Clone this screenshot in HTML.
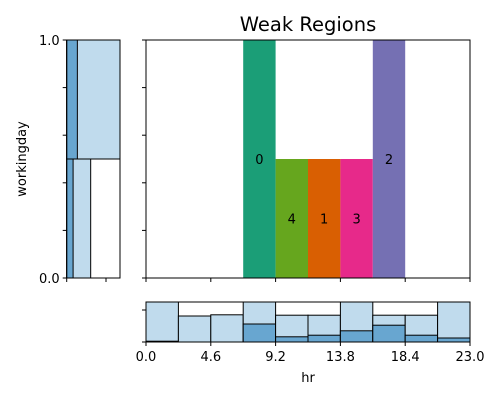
<!DOCTYPE html>
<html><head><meta charset="utf-8"><style>
body{margin:0;background:#fff}
svg{display:block;font-family:"DejaVu Sans","Liberation Sans",sans-serif}
</style></head><body>
<svg id="c" width="500" height="400" xmlns="http://www.w3.org/2000/svg">
<text x="308" y="31" font-size="19.5" text-anchor="middle">Weak Regions</text>
<text x="26" y="159" font-size="13" text-anchor="middle" transform="rotate(-90 26 159)">workingday</text>
<text x="308" y="382" font-size="13" text-anchor="middle">hr</text>
<g id="main"></g><g id="left"></g><g id="bottom"></g>
</svg>
<script>
// main region bars: x range (hr), height (workingday fraction), label
const regionLabels=["0","4","1","3","2"];
const regionX0=[6.9,9.2,11.5,13.8,16.1];
const regionX1=[9.2,11.5,13.8,16.1,18.4];
const regionY0=[0,0,0,0,0];
const regionY1=[1,0.5,0.5,0.5,1];
const regionLabelY=[0.5,0.25,0.25,0.25,0.5];
const regionColors=["#1b9e77","#66a61e","#d95f02","#e7298a","#7570b3"];
// bottom histogram (relative heights)
const binEdges=[0,2.3,4.6,6.9,9.2,11.5,13.8,16.1,18.4,20.7,23];
const totalHeights=[1,0.65,0.68,1,0.67,0.67,1,0.67,0.67,1];
const weakHeights=[0.02,0,0,0.45,0.13,0.17,0.28,0.42,0.17,0.1];
const xTicks=[0,4.6,9.2,13.8,18.4,23];
const xTickLabels=["0.0","4.6","9.2","13.8","18.4","23.0"];
// left marginal: per row (workingday bins) widths
const leftRowsY0=[0.5,0];
const leftRowsY1=[1,0.5];
const leftTotal=[1,0.45];
const leftWeak=[0.2,0.12];

const NS="http://www.w3.org/2000/svg";
function el(p,t,a){const e=document.createElementNS(NS,t);for(const k in a)e.setAttribute(k,a[k]);p.appendChild(e);return e;}
const X0=146,X1=470,Y0=278,Y1=40;
const sx=v=>X0+(v/23)*(X1-X0);
const sy=v=>Y0-v*(Y0-Y1);
const main=document.getElementById('main');
for(let i=0;i<regionLabels.length;i++){
 const r=el(main,'rect',{x:sx(regionX0[i]),y:sy(regionY1[i]),width:sx(regionX1[i])-sx(regionX0[i]),height:sy(regionY0[i])-sy(regionY1[i]),fill:regionColors[i]});
 
 
 const t=el(main,'text',{x:(sx(regionX0[i])+sx(regionX1[i]))/2,y:sy(regionLabelY[i])+5,'font-size':13,'text-anchor':'middle'});
 t.textContent=regionLabels[i];
 
 
}
el(main,'rect',{x:X0,y:Y1,width:X1-X0,height:Y0-Y1,fill:'none',stroke:'#000','stroke-width':1});
for(let i=0;i<=5;i++){const y=Y0-i*(Y0-Y1)/5;el(main,'line',{x1:X0-4,x2:X0,y1:y,y2:y,stroke:'#000'});}
for(const v of xTicks){el(main,'line',{x1:sx(v),x2:sx(v),y1:Y0,y2:Y0+4,stroke:'#000'});}

// left panel
const left=document.getElementById('left');
const LX0=66.7,LX1=120;
const lx=v=>LX0+v*(LX1-LX0);
for(let i=0;i<leftTotal.length;i++){
 const a=el(left,'rect',{x:LX0,y:sy(leftRowsY1[i]),width:lx(leftTotal[i])-LX0,height:sy(leftRowsY0[i])-sy(leftRowsY1[i]),fill:'#c0dbed',stroke:'#000','stroke-width':1});
 
 
 const b=el(left,'rect',{x:LX0,y:sy(leftRowsY1[i]),width:lx(leftWeak[i])-LX0,height:sy(leftRowsY0[i])-sy(leftRowsY1[i]),fill:'#68a6d0',stroke:'#000','stroke-width':1});
 
 
}
el(left,'rect',{x:LX0,y:Y1,width:LX1-LX0,height:Y0-Y1,fill:'none',stroke:'#000'});
for(let i=0;i<=5;i++){const y=Y0-i*(Y0-Y1)/5;el(left,'line',{x1:LX0-4,x2:LX0,y1:y,y2:y,stroke:'#000'});}
[LX0,106].forEach(x=>el(left,'line',{x1:x,x2:x,y1:Y0,y2:Y0+4,stroke:'#000'}));
const t1=el(left,'text',{x:LX0-7,y:Y1+5,'font-size':13,'text-anchor':'end'});t1.textContent='1.0';


const t0=el(left,'text',{x:LX0-7,y:Y0+5,'font-size':13,'text-anchor':'end'});t0.textContent='0.0';



// bottom panel
const bot=document.getElementById('bottom');
const BY0=342,BY1=302;
const by=v=>BY0-v*(BY0-BY1);
for(let i=0;i<totalHeights.length;i++){
 const a=el(bot,'rect',{x:sx(binEdges[i]),y:by(totalHeights[i]),width:sx(binEdges[i+1])-sx(binEdges[i]),height:BY0-by(totalHeights[i]),fill:'#c0dbed',stroke:'#000'});
 
 
 const b=el(bot,'rect',{x:sx(binEdges[i]),y:by(weakHeights[i]),width:sx(binEdges[i+1])-sx(binEdges[i]),height:BY0-by(weakHeights[i]),fill:'#68a6d0',stroke:'#000'});
 
 
}
el(bot,'rect',{x:X0,y:BY1,width:X1-X0,height:BY0-BY1,fill:'none',stroke:'#000'});
[310,BY0].forEach(y=>el(bot,'line',{x1:X0-4,x2:X0,y1:y,y2:y,stroke:'#000'}));
for(let i=0;i<xTicks.length;i++){
 el(bot,'line',{x1:sx(xTicks[i]),x2:sx(xTicks[i]),y1:BY0,y2:BY0+4,stroke:'#000'});
 const t=el(bot,'text',{x:sx(xTicks[i]),y:361,'font-size':13,'text-anchor':'middle'});
 t.textContent=xTickLabels[i];
 
 
}
</script>
</body></html>
